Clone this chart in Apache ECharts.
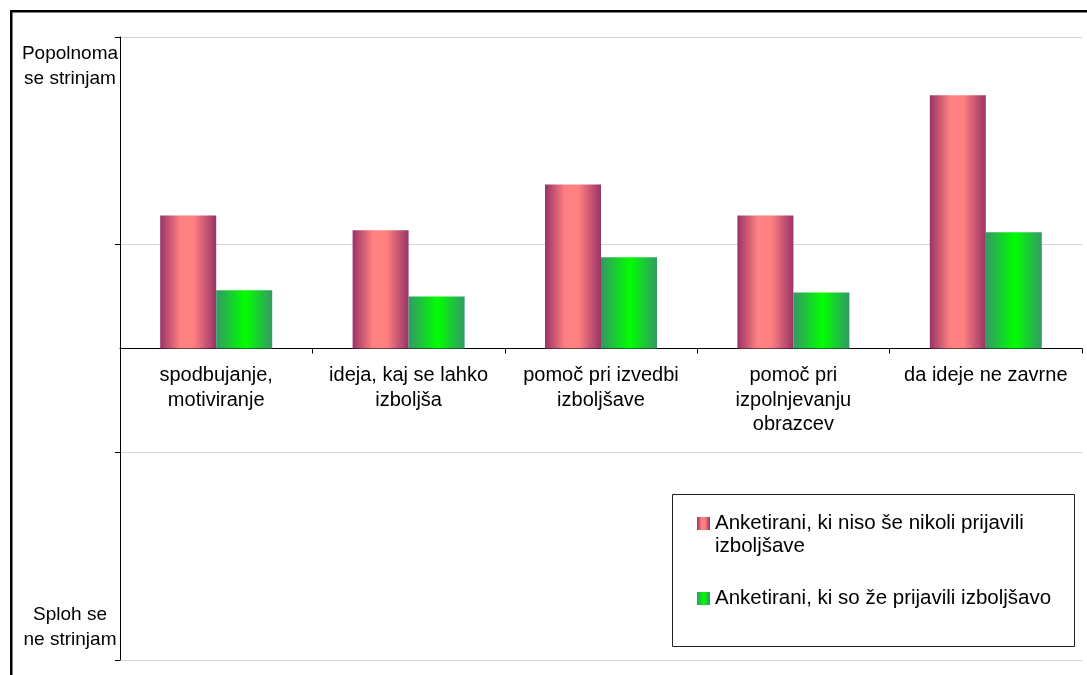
<!DOCTYPE html>
<html>
<head>
<meta charset="utf-8">
<script src="https://cdn.jsdelivr.net/npm/echarts@6/dist/echarts.min.js"></script>
<style>
  html, body { margin: 0; padding: 0; background: #fff; }
  #chart { width: 1087px; height: 675px; }
</style>
</head>
<body>
<div id="chart"></div>
<script>
// Survey answers on an agreement scale (1 = "Sploh se ne strinjam" ... 4 = "Popolnoma se strinjam")
const categories = [
  'spodbujanje,\nmotiviranje',
  'ideja, kaj se lahko\nizboljša',
  'pomoč pri izvedbi\nizboljšave',
  'pomoč pri\nizpolnjevanju\nobrazcev',
  'da ideje ne zavrne'
];
const seriesNames = [
  'Anketirani, ki niso še nikoli prijavili izboljšave',
  'Anketirani, ki so že prijavili izboljšavo'
];
const neverSubmitted = [3.14, 3.07, 3.29, 3.14, 3.72];
const alreadySubmitted = [2.78, 2.75, 2.94, 2.77, 3.06];
const scaleTop = 'Popolnoma\nse strinjam';
const scaleBottom = 'Sploh se\nne strinjam';

// Bars grow from the middle of the scale
const SCALE_MID = 2.5;
const SCALE_HALF = 1.5;

const FONT = '"Liberation Sans", Arial, sans-serif';

// plot area
const GRID_TOP = 37;
const GRID_BOTTOM = 15;
const CHART_H = 675;
const PLOT_H = CHART_H - GRID_TOP - GRID_BOTTOM;

const redFill = new echarts.graphic.LinearGradient(0, 0, 1, 0, [
  { offset: 0, color: '#993366' },
  { offset: 0.36, color: '#ff8080' },
  { offset: 0.6, color: '#ff8080' },
  { offset: 1, color: '#993366' }
]);
const greenFill = new echarts.graphic.LinearGradient(0, 0, 1, 0, [
  { offset: 0, color: '#339966' },
  { offset: 0.52, color: '#00ff00' },
  { offset: 1, color: '#339966' }
]);

const toLines = (s) => s.split('\n').map(t => '{l|' + t + '}').join('\n');

const chart = echarts.init(document.getElementById('chart'), null, { renderer: 'canvas' });
chart.setOption({
  animation: false,
  backgroundColor: '#ffffff',
  textStyle: { fontFamily: FONT },
  graphic: [
    { // outer frame of the chart area
      type: 'rect', silent: true, z: 100,
      shape: { x: 11.25, y: 11.25, width: 1200, height: 800 },
      style: { fill: 'none', stroke: '#000', lineWidth: 2.5 }
    },
    { // legend frame
      type: 'rect', silent: true, z: 5,
      shape: { x: 672.5, y: 494.5, width: 402, height: 152 },
      style: { fill: '#fff', stroke: '#222', lineWidth: 1 }
    }
  ],
  grid: {
    left: 120, right: 5, top: GRID_TOP, bottom: GRID_BOTTOM,
    containLabel: false,
    outerBoundsMode: 'none'
  },
  legend: {
    orient: 'vertical',
    left: 697,
    top: 489,
    padding: 0,
    itemGap: 29,
    itemWidth: 13,
    itemHeight: 13,
    icon: 'rect',
    z: 10,
    data: seriesNames,
    formatter: (name) => name === seriesNames[0]
      ? '\nAnketirani, ki niso še nikoli prijavili\nizboljšave'
      : name,
    textStyle: { fontFamily: FONT, fontSize: 20.5, lineHeight: 23, color: '#000' }
  },
  xAxis: {
    type: 'category',
    data: categories,
    position: 'bottom',
    // the category axis crosses the value axis at the middle of the scale
    offset: -PLOT_H / 2,
    axisLine: { onZero: false, lineStyle: { color: '#000', width: 1 } },
    axisTick: { show: true, alignWithLabel: false, length: 5, lineStyle: { color: '#000' } },
    axisLabel: {
      interval: 0, margin: 15, color: '#000',
      fontFamily: FONT, fontSize: 20, lineHeight: 24.5
    },
    splitLine: { show: false }
  },
  yAxis: {
    type: 'value',
    min: -SCALE_HALF,
    max: SCALE_HALF,
    interval: 1,
    axisLine: { show: true, lineStyle: { color: '#000', width: 1 } },
    axisTick: { show: true, length: 5, lineStyle: { color: '#000' } },
    splitLine: { show: true, lineStyle: { color: '#d4d4d4', width: 1 } },
    axisLabel: {
      align: 'center',
      margin: 50,
      color: '#000',
      fontFamily: FONT,
      fontSize: 19,
      formatter: (v) => {
        if (Math.abs(v - SCALE_HALF) < 1e-9) return '{gt| }\n' + toLines(scaleTop);
        if (Math.abs(v + SCALE_HALF) < 1e-9) return toLines(scaleBottom) + '\n{gb| }';
        return '';
      },
      rich: {
        l: { fontFamily: FONT, fontSize: 19, lineHeight: 25, color: '#000', align: 'center' },
        gt: { fontSize: 10, lineHeight: 59 },
        gb: { fontSize: 10, lineHeight: 66 }
      }
    }
  },
  series: [
    {
      name: seriesNames[0],
      type: 'bar',
      barWidth: 56,
      barGap: '0%',
      itemStyle: { color: redFill },
      data: neverSubmitted.map(v => +(v - SCALE_MID).toFixed(4))
    },
    {
      name: seriesNames[1],
      type: 'bar',
      barWidth: 56,
      barGap: '0%',
      itemStyle: { color: greenFill },
      data: alreadySubmitted.map(v => +(v - SCALE_MID).toFixed(4))
    }
  ]
});
</script>
</body>
</html>
